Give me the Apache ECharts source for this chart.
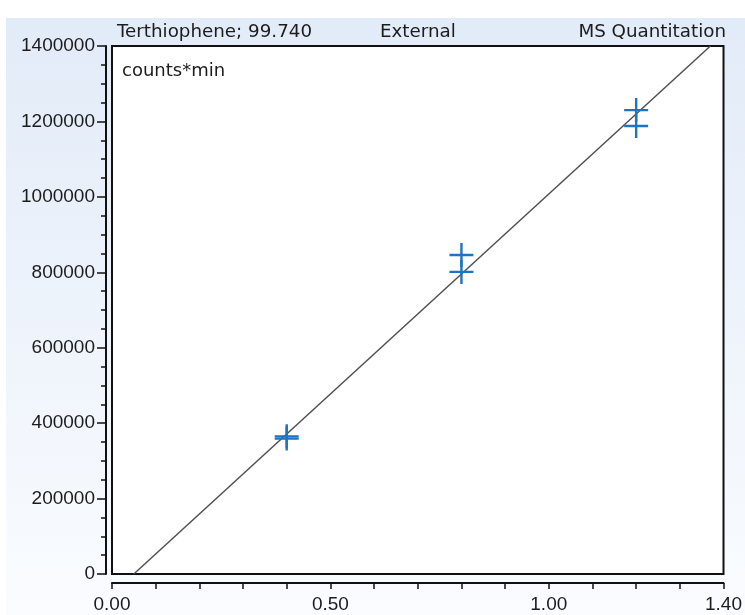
<!DOCTYPE html>
<html>
<head>
<meta charset="utf-8">
<script src="https://cdn.jsdelivr.net/npm/echarts@6/dist/echarts.min.js"></script>
<style>
  html, body { margin: 0; padding: 0; background: #fff; }
  #chart { width: 745px; height: 615px; }
</style>
</head>
<body>
<div id="chart"></div>
<script>
// calibration points (amount, counts*min)
var pointsX = [0.40, 0.40, 0.80, 0.80, 1.20, 1.20];
var pointsY = [365000, 359000, 846000, 801000, 1230000, 1188000];
// fitted line end points
var lineX = [0.05, 1.37];
var lineY = [0, 1400000];
var xLabels = [0, 0.5, 1.0, 1.4];

var font = 'Liberation Sans, Arial, sans-serif';
var wide = 'DejaVu Sans, sans-serif';
var txt = '#1c1c1c';

var myChart = echarts.init(document.getElementById('chart'));

var pts = [];
for (var i = 0; i < pointsX.length; i++) pts.push([pointsX[i], pointsY[i]]);
var fit = [];
for (var j = 0; j < lineX.length; j++) fit.push([lineX[j], lineY[j]]);

var option = {
  animation: false,
  backgroundColor: '#fff',
  graphic: [
    {
      type: 'rect', z: -10, silent: true,
      shape: { x: 6, y: 18, width: 745, height: 600 },
      style: {
        fill: new echarts.graphic.LinearGradient(0, 0, 0, 1, [
          { offset: 0, color: '#e2ebf8' },
          { offset: 1, color: '#fafcff' }
        ])
      }
    },
    { type: 'text', left: 117, top: 23, style: { text: 'Terthiophene; 99.740', font: '18.3px ' + wide, fill: txt } },
    { type: 'text', left: 380, top: 23, style: { text: 'External', font: '18.3px ' + wide, fill: txt } },
    { type: 'text', right: 19, top: 23, style: { text: 'MS Quantitation', font: '18.3px ' + wide, fill: txt } },
    { type: 'text', left: 122, top: 62, z: 10, style: { text: 'counts*min', font: '18px ' + wide, fill: txt } }
  ],
  grid: {
    left: 112, right: 17, top: 46, bottom: 41,
    show: true, backgroundColor: '#fff', borderColor: '#111', borderWidth: 2
  },
  xAxis: {
    type: 'value', min: 0, max: 1.4, interval: 0.1, offset: 9,
    axisLine: { show: true, onZero: false, lineStyle: { color: '#111', width: 2 } },
    axisTick: { show: true, length: 6, lineStyle: { color: '#111', width: 1.5 } },
    splitLine: { show: false },
    axisLabel: {
      margin: 12, fontSize: 19, fontFamily: font, color: txt,
      formatter: function (v) {
        for (var k = 0; k < xLabels.length; k++) {
          if (Math.abs(v - xLabels[k]) < 1e-6) return xLabels[k].toFixed(2);
        }
        return '';
      }
    }
  },
  yAxis: {
    type: 'value', min: 0, max: 1400000, interval: 200000, offset: 6,
    axisLine: { show: true, onZero: false, lineStyle: { color: '#111', width: 2 } },
    axisTick: { show: true, length: 9, lineStyle: { color: '#111', width: 1.5 } },
    minorTick: { show: true, splitNumber: 4, length: 5, lineStyle: { color: '#111', width: 1.5 } },
    splitLine: { show: false },
    axisLabel: {
      margin: 11, fontSize: 19, fontFamily: font, color: txt,
      formatter: function (v) { return String(v); }
    }
  },
  series: [
    {
      type: 'line',
      data: fit,
      showSymbol: false,
      lineStyle: { color: '#505050', width: 1.5 },
      z: 2
    },
    {
      type: 'scatter',
      data: pts,
      symbol: 'path://M9,0h2v9h9v2h-9v9h-2v-9h-9v-2h9z',
      symbolSize: 24,
      itemStyle: { color: '#1f74c0', opacity: 1 },
      z: 3
    }
  ]
};
myChart.setOption(option);
</script>
</body>
</html>
